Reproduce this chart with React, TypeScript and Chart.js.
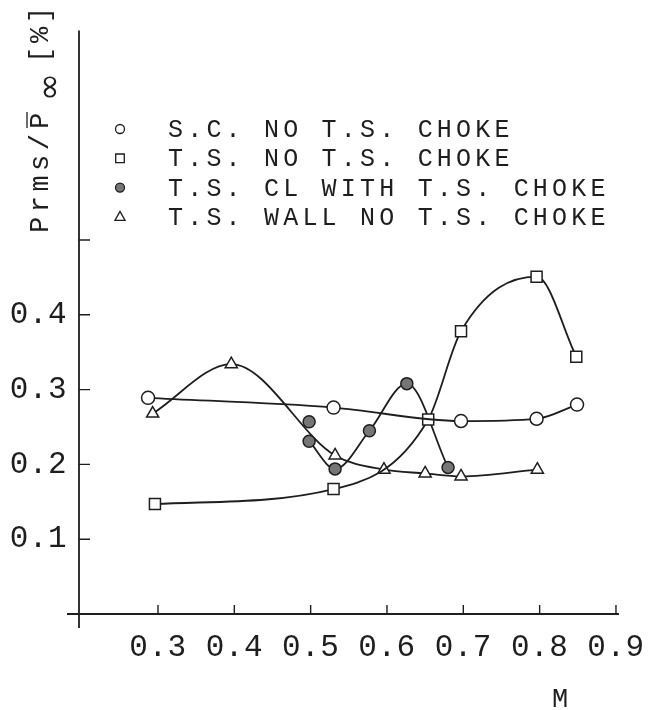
import React, { useEffect, useRef } from 'react';
import { Chart, registerables } from 'chart.js';

Chart.register(...registerables);

// Mach number and RMS pressure level [%] of each run
const scMach = [0.287, 0.530, 0.697, 0.796, 0.849];
const scPrms = [0.289, 0.276, 0.258, 0.261, 0.280];

const tsMach = [0.296, 0.530, 0.654, 0.697, 0.796, 0.848];
const tsPrms = [0.147, 0.167, 0.260, 0.378, 0.451, 0.344];

// the first centre-line reading stands on its own, the curve starts at the second
const clMach = [0.498, 0.498, 0.532, 0.577, 0.626, 0.680];
const clPrms = [0.257, 0.231, 0.194, 0.245, 0.308, 0.196];

const wallMach = [0.293, 0.396, 0.532, 0.596, 0.650, 0.697, 0.797];
const wallPrms = [0.268, 0.334, 0.212, 0.193, 0.188, 0.184, 0.193];

const seriesLabels = [
  'S.C. NO T.S. CHOKE',
  'T.S. NO T.S. CHOKE',
  'T.S. CL WITH T.S. CHOKE',
  'T.S. WALL NO T.S. CHOKE',
];

const xTicks = [0.3, 0.4, 0.5, 0.6, 0.7, 0.8, 0.9];
const xTickLabels = ['0.3', '0.4', '0.5', '0.6', '0.7', '0.8', '0.9'];
const yTicks = [0.1, 0.2, 0.3, 0.4, 0.5];
const yTickLabels = ['0.1', '0.2', '0.3', '0.4', ''];

const INK = '#1e1e1e';
const MONO = '"Liberation Mono", "DejaVu Sans Mono", monospace';

const toPoints = (xs: number[], ys: number[]) => xs.map((x, i) => ({ x, y: ys[i] }));

function markerPath(ctx: CanvasRenderingContext2D, style: string, x: number, y: number, r: number) {
  ctx.beginPath();
  if (style === 'rect') {
    ctx.rect(x - r, y - r, 2 * r, 2 * r);
  } else if (style === 'triangle') {
    ctx.moveTo(x, y - r);
    ctx.lineTo(x + r * 0.92, y + r * 0.62);
    ctx.lineTo(x - r * 0.92, y + r * 0.62);
    ctx.closePath();
  } else {
    ctx.arc(x, y, r, 0, Math.PI * 2);
  }
}

const paperPlugin = {
  id: 'paperFigure',
  beforeDraw(chart: any) {
    // wide typewriter spacing for the tick labels
    chart.ctx.letterSpacing = '0.5px';
  },
  afterDraw(chart: any) {
    const { ctx, chartArea: ca, scales } = chart;
    const xs = scales.x;
    const ys = scales.y;
    ctx.save();
    ctx.letterSpacing = '0px';
    ctx.strokeStyle = INK;
    ctx.fillStyle = INK;
    ctx.lineWidth = 1.8;

    // axis lines, running a little past the origin
    ctx.beginPath();
    ctx.moveTo(ca.left - 12, ca.bottom);
    ctx.lineTo(xs.getPixelForValue(0.9) + 3, ca.bottom);
    ctx.moveTo(ca.left, ca.top);
    ctx.lineTo(ca.left, ca.bottom + 14);
    ctx.stroke();

    // inward tick marks
    ctx.lineWidth = 1.4;
    ctx.beginPath();
    xs.ticks.forEach((t: any) => {
      const px = xs.getPixelForValue(t.value);
      ctx.moveTo(px, ca.bottom);
      ctx.lineTo(px, ca.bottom - 9);
    });
    ys.ticks.forEach((t: any) => {
      const py = ys.getPixelForValue(t.value);
      ctx.moveTo(ca.left, py);
      ctx.lineTo(ca.left + 11, py);
    });
    ctx.stroke();

    // legend inside the plot
    const rowTop = 129;
    const rowGap = 29.3;
    chart.data.datasets.forEach((ds: any, i: number) => {
      const yy = rowTop + i * rowGap;
      const style = ds.pointStyle;
      const r = style === 'rect' ? 4.3 : style === 'triangle' ? 5.5 : 4.5;
      markerPath(ctx, style, 120, yy, r);
      ctx.fillStyle = ds.pointBackgroundColor;
      ctx.fill();
      ctx.lineWidth = 1.3;
      ctx.strokeStyle = INK;
      ctx.stroke();
      ctx.fillStyle = INK;
      ctx.font = `25px ${MONO}`;
      ctx.letterSpacing = '4.2px';
      ctx.textAlign = 'left';
      ctx.textBaseline = 'alphabetic';
      ctx.fillText(ds.label, 168, yy + 8);
    });

    // y-axis title, read from bottom to top
    ctx.save();
    ctx.translate(48, 233);
    ctx.rotate(-Math.PI / 2);
    ctx.font = `27px ${MONO}`;
    ctx.letterSpacing = '4.5px';
    ctx.textAlign = 'left';
    ctx.textBaseline = 'alphabetic';
    ctx.fillText('Prms/', 0, 0);
    ctx.fillText('P', 104, 0);
    ctx.lineWidth = 1.3;
    ctx.beginPath();
    ctx.moveTo(105, -21);
    ctx.lineTo(121, -21);
    ctx.stroke();
    ctx.letterSpacing = '0px';
    ctx.font = '34px "DejaVu Sans", sans-serif';
    ctx.fillText('\u221E', 132, 12);
    ctx.font = `27px ${MONO}`;
    ctx.letterSpacing = '3.8px';
    ctx.fillText('[%]', 170, 0);
    ctx.restore();

    // x-axis title
    ctx.font = `27px ${MONO}`;
    ctx.letterSpacing = '0px';
    ctx.textAlign = 'center';
    ctx.textBaseline = 'alphabetic';
    ctx.fillText('M', 560, 707);

    ctx.restore();
  },
};

export default function App() {
  const canvasRef = useRef<HTMLCanvasElement | null>(null);

  useEffect(() => {
    const canvas = canvasRef.current;
    if (!canvas) return;

    const clPoints: any[] = toPoints(clMach, clPrms);
    clPoints.splice(1, 0, { x: clMach[0], y: null });

    const lineCommon = {
      showLine: true,
      borderColor: INK,
      borderWidth: 1.8,
      pointBorderColor: INK,
      pointBorderWidth: 1.5,
      cubicInterpolationMode: 'monotone' as const,
      spanGaps: false,
    };

    const chart = new Chart(canvas, {
      type: 'line',
      data: {
        datasets: [
          {
            ...lineCommon,
            label: seriesLabels[0],
            data: toPoints(scMach, scPrms),
            pointStyle: 'circle',
            pointRadius: 6.5,
            pointBackgroundColor: '#ffffff',
          },
          {
            ...lineCommon,
            label: seriesLabels[1],
            data: toPoints(tsMach, tsPrms),
            pointStyle: 'rect',
            pointRadius: 7.8,
            pointBackgroundColor: '#ffffff',
          },
          {
            ...lineCommon,
            label: seriesLabels[2],
            data: clPoints,
            pointStyle: 'circle',
            pointRadius: 6,
            pointBackgroundColor: '#767676',
          },
          {
            ...lineCommon,
            label: seriesLabels[3],
            data: toPoints(wallMach, wallPrms),
            pointStyle: 'triangle',
            pointRadius: 7,
            pointBackgroundColor: '#ffffff',
          },
        ],
      },
      options: {
        responsive: false,
        animation: false,
        devicePixelRatio: 1,
        layout: { padding: { top: 10, right: 34, left: 0, bottom: 0 } },
        plugins: {
          legend: { display: false },
          tooltip: { enabled: false },
        },
        scales: {
          x: {
            type: 'linear',
            min: 0.1965,
            max: 0.9026,
            afterFit: (s: any) => {
              s.height = 96;
            },
            afterBuildTicks: (s: any) => {
              s.ticks = xTicks.map((value) => ({ value }));
            },
            grid: { display: false, drawTicks: false },
            border: { display: false },
            ticks: {
              autoSkip: false,
              maxRotation: 0,
              padding: 15,
              color: INK,
              font: { family: MONO, size: 31 },
              callback: (_v: any, i: number) => xTickLabels[i],
            },
          },
          y: {
            type: 'linear',
            min: 0,
            max: 0.78,
            afterFit: (s: any) => {
              s.width = 79;
            },
            afterBuildTicks: (s: any) => {
              s.ticks = yTicks.map((value) => ({ value }));
            },
            grid: { display: false, drawTicks: false },
            border: { display: false },
            ticks: {
              autoSkip: false,
              padding: 12,
              color: INK,
              font: { family: MONO, size: 31 },
              callback: (_v: any, i: number) => yTickLabels[i],
            },
          },
        },
      },
      plugins: [paperPlugin],
    });

    return () => chart.destroy();
  }, []);

  return (
    <div style={{ position: 'fixed', left: 0, top: 0, width: 659, height: 710, background: '#ffffff' }}>
      <canvas ref={canvasRef} width={659} height={710} style={{ display: 'block' }} />
    </div>
  );
}
